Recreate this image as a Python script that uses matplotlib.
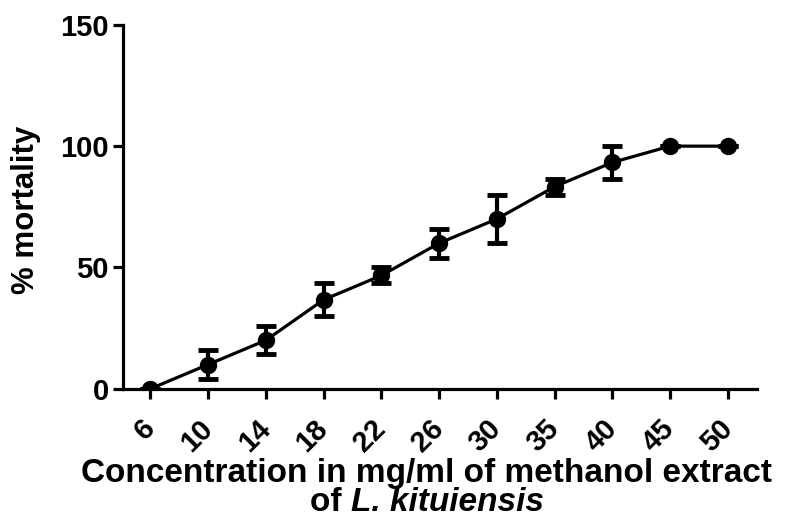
import numpy as np
import matplotlib
matplotlib.use("Agg")
import matplotlib.pyplot as plt

plt.rcParams['font.family'] = ['Liberation Sans', 'DejaVu Sans']
plt.rcParams['font.weight'] = 'bold'

# data
concentrations = ['6', '10', '14', '18', '22', '26', '30', '35', '40', '45', '50']
mortality = [0, 10, 20, 36.7, 46.7, 60, 70, 83.3, 93.3, 100, 100]
mortality_err = [0, 5.8, 5.8, 6.7, 3.3, 6.0, 10.0, 3.3, 6.7, 0, 0]

x = np.arange(len(concentrations))

fig = plt.figure(figsize=(7.9, 5.17), dpi=100)
ax = fig.add_axes([0.156, 0.248, 0.802, 0.704])

ax.errorbar(x, mortality, yerr=mortality_err, color='black', lw=2.3,
            marker='o', ms=11.5, elinewidth=3, capsize=7, capthick=3.5)

ax.set_xlim(-0.47, 10.5)
ax.set_ylim(0, 150)
ax.set_yticks([0, 50, 100, 150])
ax.set_xticks(x)
ax.set_xticklabels(concentrations, rotation=45, ha='right', va='center',
                   rotation_mode='anchor')

for s in ['top', 'right']:
    ax.spines[s].set_visible(False)
for s in ['left', 'bottom']:
    ax.spines[s].set_linewidth(2.3)
ax.tick_params(axis='both', width=2.3, length=7.5, labelsize=21)
ax.tick_params(axis='y', pad=3)
ax.tick_params(axis='x', pad=18)
for lab in ax.get_xticklabels() + ax.get_yticklabels():
    lab.set_fontweight('bold')

fig.text(0.033, 0.595, '% mortality', rotation=90, ha='center', va='center',
         fontsize=22.5, fontweight='bold')

fig.text(0.54, 0.068, 'Concentration in mg/ml of methanol extract', ha='center',
         va='baseline', fontsize=24, fontweight='bold')

# second line: "of " upright, species name italic, centred together
t1 = fig.text(0, 0.012, 'of ', ha='left', va='baseline', fontsize=24, fontweight='bold')
t2 = fig.text(0, 0.012, 'L. kituiensis', ha='left', va='baseline', fontsize=24,
              fontweight='bold', fontstyle='italic')
r = fig.canvas.get_renderer()
w1 = t1.get_window_extent(r).width / fig.bbox.width
w2 = t2.get_window_extent(r).width / fig.bbox.width
x0 = 0.54 - (w1 + w2) / 2
t1.set_x(x0)
t2.set_x(x0 + w1)

fig.savefig('out.png', dpi=100)
